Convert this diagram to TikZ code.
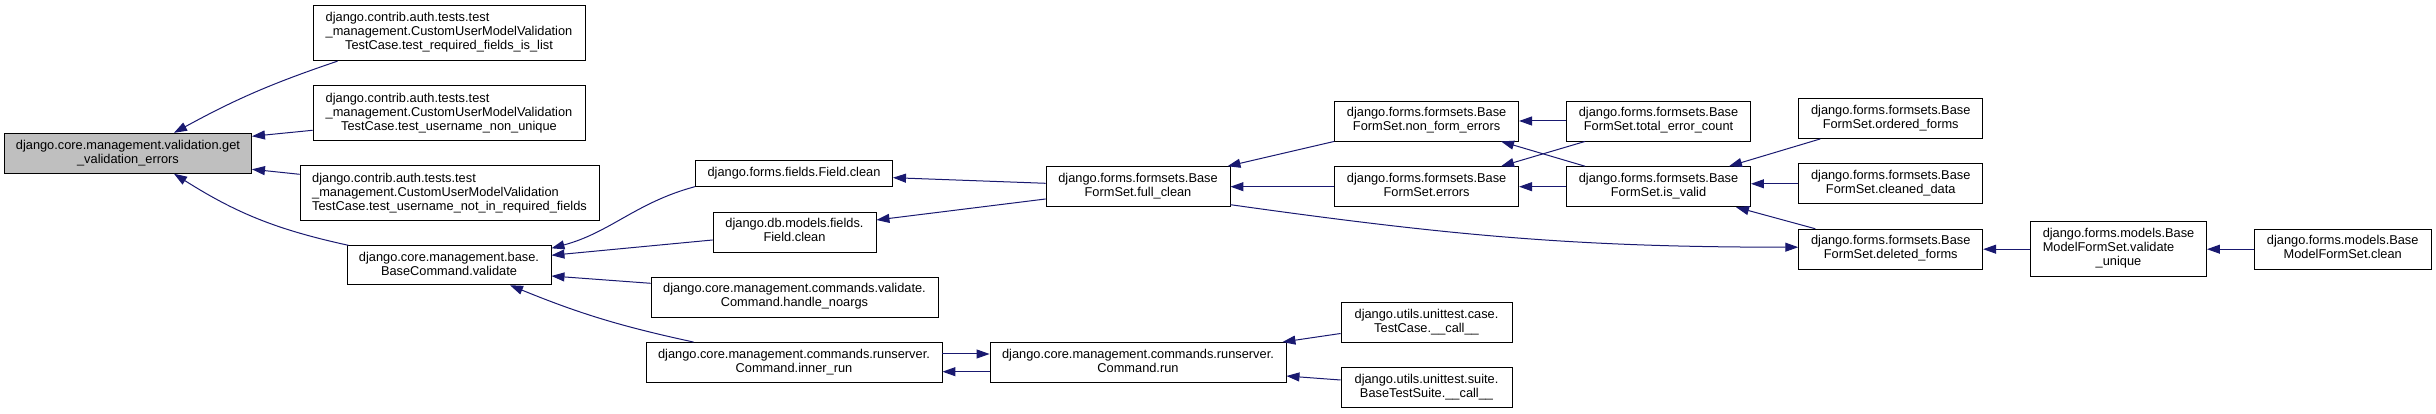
\documentclass[tikz,border=0pt]{standalone}
\usepackage{fontspec}
\setmainfont{Liberation Sans}
\usetikzlibrary{arrows.meta}
\definecolor{callblue}{RGB}{25,25,112}
\definecolor{focusgray}{RGB}{191,191,191}
% label: all lines but the last left aligned, last line centred
\newcommand{\fnlabel}[2]{\begin{tabular}{@{}l@{}}#1\\\multicolumn{1}{@{}c@{}}{#2}\end{tabular}}

\begin{document}
\begin{tikzpicture}[x=1pt, y=1pt, >={Triangle[length=13pt,width=9pt]},
    func/.style={draw=black, fill=white, line width=0.9pt, inner sep=1pt,
      minimum height=40pt, font=\fontsize{12.8}{14}\selectfont},
    calls/.style={->, draw=callblue, line width=1pt}]
    \useasboundingbox (0,0) rectangle (2436,414);

    % the function itself
    \node[func, fill=focusgray, minimum width=247pt] (getval) at (128,260.7)
      {\fnlabel{django.core.management.validation.get}{\_validation\_errors}};

    % first column of callers
    \node[func, minimum width=272pt, minimum height=55pt] (reqlist) at (449,380.8)
      {\fnlabel{django.contrib.auth.tests.test\\\_management.CustomUserModelValidation}{TestCase.test\_required\_fields\_is\_list}};
    \node[func, minimum width=272pt, minimum height=55pt] (nonuniq) at (449,300.7)
      {\fnlabel{django.contrib.auth.tests.test\\\_management.CustomUserModelValidation}{TestCase.test\_username\_non\_unique}};
    \node[func, minimum width=299pt, minimum height=55pt] (notinreq) at (449.5,220.7)
      {\fnlabel{django.contrib.auth.tests.test\\\_management.CustomUserModelValidation}{TestCase.test\_username\_not\_in\_required\_fields}};
    \node[func, minimum width=204pt, minimum height=39pt] (validate) at (449,148.7)
      {\fnlabel{django.core.management.base.}{BaseCommand.validate}};

    % second column
    \node[func, minimum width=197pt, minimum height=26pt] (fieldclean) at (794,240.8)
      {django.forms.fields.Field.clean};
    \node[func, minimum width=163pt] (dbclean) at (794.5,182)
      {\fnlabel{django.db.models.fields.}{Field.clean}};
    \node[func, minimum width=287pt] (noargs) at (794.5,117)
      {\fnlabel{django.core.management.commands.validate.}{Command.handle\_noargs}};
    \node[func, minimum width=296pt] (innerrun) at (794,51.5)
      {\fnlabel{django.core.management.commands.runserver.}{Command.inner\_run}};

    % third column
    \node[func, minimum width=184pt] (fullclean) at (1138,227.3)
      {\fnlabel{django.forms.formsets.Base}{FormSet.full\_clean}};
    \node[func, minimum width=296pt] (run) at (1138,51.5)
      {\fnlabel{django.core.management.commands.runserver.}{Command.run}};

    % formset methods
    \node[func, minimum width=184pt] (nonform) at (1426.6,293)
      {\fnlabel{django.forms.formsets.Base}{FormSet.non\_form\_errors}};
    \node[func, minimum width=184pt] (errors) at (1426.6,227.3)
      {\fnlabel{django.forms.formsets.Base}{FormSet.errors}};
    \node[func, minimum width=184pt] (totalerr) at (1658.5,293)
      {\fnlabel{django.forms.formsets.Base}{FormSet.total\_error\_count}};
    \node[func, minimum width=184pt] (isvalid) at (1658.5,227.3)
      {\fnlabel{django.forms.formsets.Base}{FormSet.is\_valid}};
    \node[func, minimum width=184pt] (ordered) at (1890.7,295.5)
      {\fnlabel{django.forms.formsets.Base}{FormSet.ordered\_forms}};
    \node[func, minimum width=184pt] (cleaned) at (1890.7,230.2)
      {\fnlabel{django.forms.formsets.Base}{FormSet.cleaned\_data}};
    \node[func, minimum width=184pt] (deleted) at (1890.7,164.8)
      {\fnlabel{django.forms.formsets.Base}{FormSet.deleted\_forms}};

    % unittest callers
    \node[func, minimum width=171pt] (tccall) at (1426.5,91.5)
      {\fnlabel{django.utils.unittest.case.}{TestCase.\_\_call\_\_}};
    \node[func, minimum width=171pt] (suitecall) at (1426.5,26.2)
      {\fnlabel{django.utils.unittest.suite.}{BaseTestSuite.\_\_call\_\_}};

    % model formset
    \node[func, minimum width=176pt, minimum height=55pt] (vunique) at (2118.5,164.8)
      {\fnlabel{django.forms.models.Base\\ModelFormSet.validate}{\_unique}};
    \node[func, minimum width=177pt] (mfclean) at (2342.7,164.8)
      {\fnlabel{django.forms.models.Base}{ModelFormSet.clean}};

    % calls into get_validation_errors
    \draw[calls] ([xshift=25pt]reqlist.south west) to[bend right=5] ([xshift=46pt]getval.north);
    \draw[calls] ([yshift=-17pt]nonuniq.west) -- ([yshift=17pt]getval.east);
    \draw[calls] ([yshift=19pt]notinreq.west) -- ([yshift=-16pt]getval.east);
    \draw[calls] ([xshift=2pt]validate.north west) to[bend left=10] ([xshift=46pt]getval.south);

    % calls into validate
    \draw[calls] (fieldclean.south west) to[out=195,in=15] ([yshift=17pt]validate.east);
    \draw[calls] ([yshift=-8pt]dbclean.west) -- ([yshift=10pt]validate.east);
    \draw[calls] ([yshift=13.7pt]noargs.west) -- ([yshift=-10.7pt]validate.east);
    \draw[calls] ([xshift=48pt]innerrun.north west) to[bend left=5] ([xshift=61pt]validate.south);

    % full_clean
    \draw[calls] ([yshift=3.4pt]fullclean.west) -- ([yshift=-4.5pt]fieldclean.east);
    \draw[calls] ([yshift=-12.3pt]fullclean.west) -- ([yshift=12pt]dbclean.east);
    \draw[calls] (nonform.south west) -- ([xshift=-3pt]fullclean.north east);
    \draw[calls] (errors.west) -- (fullclean.east);
    \draw[calls] ([yshift=-18pt]fullclean.east) to[out=-8,in=180] ([yshift=2pt]deleted.west);

    % formset methods
    \draw[calls] (totalerr.west) -- (nonform.east);
    \draw[calls] ([xshift=19pt]totalerr.south west) -- ([xshift=-18pt]errors.north east);
    \draw[calls] ([xshift=19pt]isvalid.north west) -- ([xshift=-18pt]nonform.south east);
    \draw[calls] (isvalid.west) -- (errors.east);
    \draw[calls] ([xshift=22pt]ordered.south west) -- ([xshift=-22pt]isvalid.north east);
    \draw[calls] (cleaned.west) -- (cleaned.west -| isvalid.east);
    \draw[calls] ([xshift=17pt]deleted.north west) -- ([xshift=-15pt]isvalid.south east);
    \draw[calls] (vunique.west) -- (deleted.east);
    \draw[calls] (mfclean.west) -- (vunique.east);

    % runserver
    \draw[calls] ([yshift=8.5pt]innerrun.east) -- ([yshift=8.5pt]run.west);
    \draw[calls] ([yshift=-9.2pt]run.west) -- ([yshift=-9.2pt]innerrun.east);
    \draw[calls] ([yshift=-11pt]tccall.west) -- ([xshift=-4pt]run.north east);
    \draw[calls] ([yshift=7.8pt]suitecall.west) -- ([yshift=-13.5pt]run.east);
\end{tikzpicture}
\end{document}
